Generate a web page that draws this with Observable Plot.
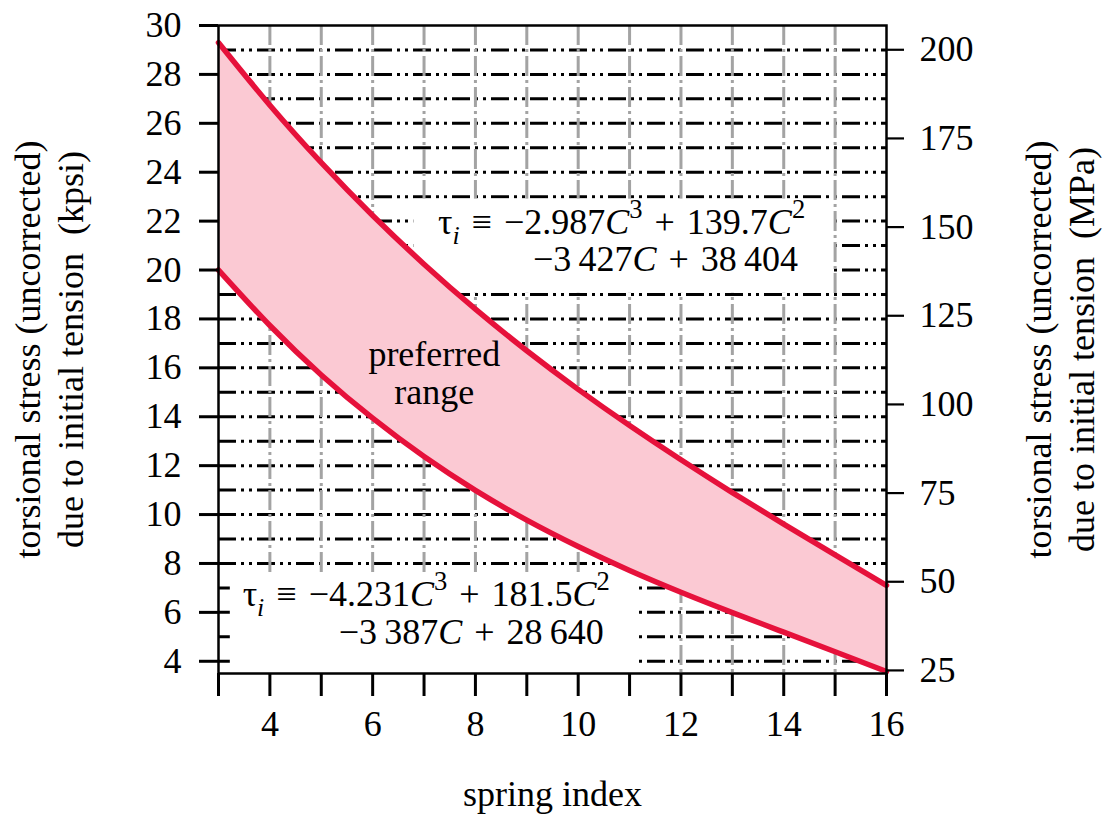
<!DOCTYPE html>
<html><head><meta charset="utf-8">
<script src="https://cdn.jsdelivr.net/npm/d3@7"></script>
<script src="https://cdn.jsdelivr.net/npm/@observablehq/plot@0.6"></script>
<style>
body{margin:0;background:#fff;}
</style></head><body><div id="chart"></div>
<script>
// ---- data (kpsi at each spring index) ----
const springIndex = [3, 4, 5, 6, 7, 8, 9, 10, 11, 12, 13, 14, 15, 16];
const upperKpsi = [29.30, 26.74, 24.39, 22.23, 20.24, 18.40, 16.70, 15.12, 13.64, 12.24, 10.90, 9.61, 8.35, 7.10];
const lowerKpsi = [20.00, 17.73, 15.71, 13.94, 12.37, 10.99, 9.77, 8.69, 7.71, 6.82, 5.99, 5.19, 4.39, 3.58];

// ---- ticks / grid ----
const xTicks = [3, 4, 5, 6, 7, 8, 9, 10, 11, 12, 13, 14, 15, 16];
const xTickLabels = [4, 6, 8, 10, 12, 14, 16];
const kpsiTicks = [4, 6, 8, 10, 12, 14, 16, 18, 20, 22, 24, 26, 28, 30];
const mpaTicks = [25, 50, 75, 100, 125, 150, 175, 200];
const xGrid = [4, 5, 6, 7, 8, 9, 10, 11, 12, 13, 14, 15];
const yGrid = [4, 5, 6, 7, 8, 9, 10, 11, 12, 13, 14, 15, 16, 17, 18, 19, 20, 21, 22, 23, 24, 25, 26, 27, 28, 29];
const mpaPerKpsi = 6.894757;

// ---- annotations ----
const SP = "\u2004";
const eqText = ["τ_{i}" + SP + "≡" + SP + "−2.987*C*^{3}" + SP + "+" + SP + "139.7*C*^{2}", "−3\u2009427*C*" + SP + "+" + SP + "38\u2009404",
                "τ_{i}" + SP + "≡" + SP + "−4.231*C*^{3}" + SP + "+" + SP + "181.5*C*^{2}", "−3\u2009387*C*" + SP + "+" + SP + "28\u2009640"];
const eqC = [7.27, 9.12, 3.47, 5.34];
const eqKpsi = [21.49, 19.98, 6.24, 4.70];
const rangeText = ["preferred", "range"];
const rangeC = [7.2, 7.2];
const rangeKpsi = [16.09, 14.54];
const boxC1 = [6.8, 3.23];
const boxC2 = [14.9, 11.17];
const boxK1 = [19.05, 3.5];
const boxK2 = [22.9, 7.6];
const xLabel = "spring index";
const yLabelLeft = "torsional stress (uncorrected)\ndue to initial tension  (kpsi)";
const yLabelRight = "torsional stress (uncorrected)\ndue to initial tension  (MPa)";

const curveData = springIndex.map((c, i) => ({c, up: upperKpsi[i], lo: lowerKpsi[i]}));
const boxes = boxC1.map((d, i) => ({x1: d, x2: boxC2[i], y1: boxK1[i], y2: boxK2[i]}));
const eqs = eqText.map((t, i) => ({t, c: eqC[i], k: eqKpsi[i]}));
const ranges = rangeText.map((t, i) => ({t, c: rangeC[i], k: rangeKpsi[i]}));

const FONT = "Liberation Serif, Times New Roman, serif";
const FS = 36;
const RED = "#e6113b";
const PINK = "#fbc9d3";

const chart = Plot.plot({
  width: 1103,
  height: 815,
  marginLeft: 218,
  marginRight: 217,
  marginTop: 25,
  marginBottom: 142,
  style: {fontFamily: FONT, fontSize: FS + "px", background: "white", color: "black"},
  x: {domain: [3, 16]},
  y: {domain: [3.5, 30]},
  marks: [
    Plot.ruleY(yGrid, {stroke: "black", strokeWidth: 3, strokeDasharray: "18,5,3,5,3,5"}),
    Plot.ruleX(xGrid, {stroke: "#a3a3a3", strokeWidth: 3, strokeDasharray: "20,4,3,4"}),
    Plot.rect(boxes, {x1: "x1", x2: "x2", y1: "y1", y2: "y2", fill: "white"}),
    Plot.areaY(curveData, {x: "c", y1: "lo", y2: "up", fill: PINK, curve: "natural"}),
    Plot.line(curveData, {x: "c", y: "up", stroke: RED, strokeWidth: 5.5, curve: "natural"}),
    Plot.line(curveData, {x: "c", y: "lo", stroke: RED, strokeWidth: 5.5, curve: "natural"}),
    Plot.frame({stroke: "black", strokeWidth: 2.5}),
    Plot.axisX({ticks: xTicks, tickSize: 23, tickPadding: 14, strokeWidth: 3,
      tickFormat: d => xTickLabels.includes(d) ? String(d) : "", fontSize: FS, label: null}),
    Plot.axisY({anchor: "left", ticks: kpsiTicks, tickSize: 19, tickPadding: 18, strokeWidth: 3,
      tickFormat: d => String(d), fontSize: FS, label: null}),
    Plot.axisY({anchor: "right", ticks: mpaTicks.map(m => m / mpaPerKpsi), tickSize: 17, tickPadding: 16, strokeWidth: 2.2,
      tickFormat: d => String(Math.round(d * mpaPerKpsi)), fontSize: FS, label: null}),
    Plot.text(eqs, {x: "c", y: "k", text: "t", textAnchor: "start", lineAnchor: "bottom", fontSize: FS, fill: "black"}),
    Plot.text(ranges, {x: "c", y: "k", text: "t", textAnchor: "middle", lineAnchor: "bottom", fontSize: FS, fill: "black"}),
    Plot.text([xLabel], {frameAnchor: "bottom", dy: 132, textAnchor: "middle", lineAnchor: "bottom", fontSize: FS, fill: "black"}),
    Plot.text([yLabelLeft], {frameAnchor: "left", dx: -171, rotate: -90, textAnchor: "middle", lineAnchor: "middle", lineHeight: 1.2, fontSize: FS, fill: "black"}),
    Plot.text([yLabelRight], {frameAnchor: "right", dx: 172, rotate: -90, textAnchor: "middle", lineAnchor: "middle", lineHeight: 1.2, fontSize: FS, fill: "black"})
  ]
});

// rich text (italic C, subscript i, superscripts)
function richify(svg) {
  d3.select(svg).selectAll("text").each(function () {
    const t = this;
    if (t.querySelector("tspan")) return;
    const s = t.textContent;
    if (!/(_\{|\^\{|\*)/.test(s)) return;
    const parts = s.split(/(_\{[^}]*\}|\^\{[^}]*\}|\*[^*]*\*)/).filter(p => p !== "");
    t.textContent = "";
    let shift = 0;
    for (const p of parts) {
      const ts = document.createElementNS("http://www.w3.org/2000/svg", "tspan");
      let content = p, dy = 0, size = null, italic = false;
      if (p.startsWith("_{")) { content = p.slice(2, -1); dy = 10; size = 0.72 * FS; italic = true; }
      else if (p.startsWith("^{")) { content = p.slice(2, -1); dy = -16; size = 0.74 * FS; }
      else if (p.startsWith("*")) { content = p.slice(1, -1); italic = true; }
      const need = dy - shift;
      if (need !== 0) ts.setAttribute("dy", need);
      shift = dy;
      if (size) ts.setAttribute("font-size", size);
      if (italic) ts.setAttribute("font-style", "italic");
      ts.textContent = content;
      t.appendChild(ts);
    }
  });
}
richify(chart);
document.getElementById("chart").appendChild(chart);
</script>
</body></html>
